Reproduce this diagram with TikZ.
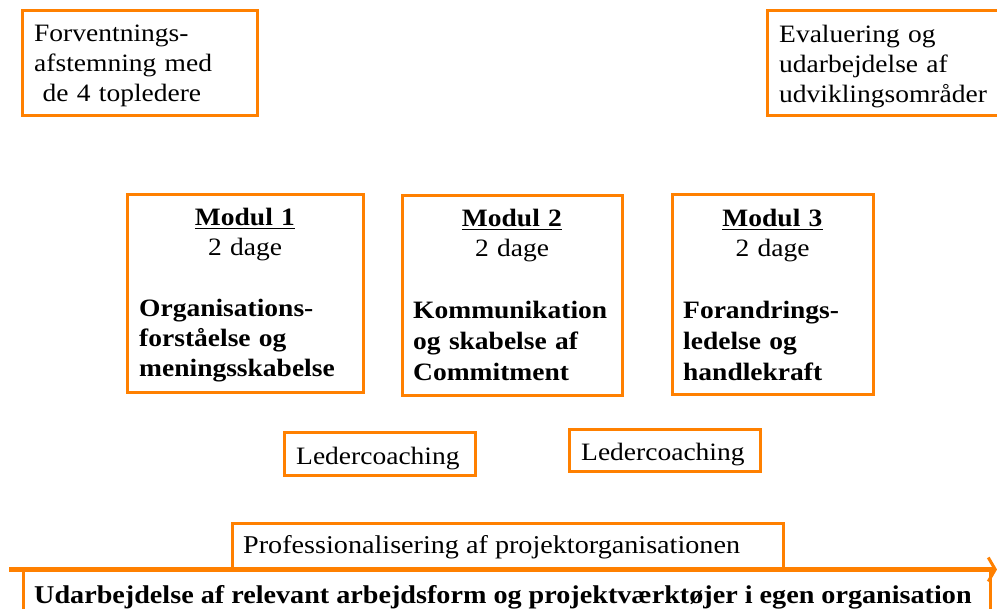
\documentclass[tikz,border=0pt]{standalone}
\usepackage{fontspec}
\setmainfont[FakeStretch=1.1]{Liberation Serif}
\usetikzlibrary{arrows.meta}
\definecolor{boxorange}{RGB}{255,128,0}
\begin{document}
\begin{tikzpicture}[x=1pt,y=-1pt,
  box/.style={draw=boxorange,line width=3pt,inner sep=0pt,outer sep=0pt,anchor=north west},
  txt/.style={inner sep=0pt,anchor=base west,font=\fontsize{25}{30}\selectfont},
  body/.style={txt,text width=#1,align=left},
  head/.style={inner sep=0pt,anchor=base,text width=200pt,align=center,font=\fontsize{25}{30}\selectfont},
  bar/.style={draw=boxorange,line width=5.5pt}
]
\useasboundingbox (0,0) rectangle (997,609);
\clip (0,0) rectangle (997,609);

% top boxes
\node[box,minimum width=235pt,minimum height=105pt] (fv) at (22.5,11) {};
\node[box,minimum width=243pt,minimum height=105pt] (ev) at (767,11) {};
\node[body=220pt] (fvt) at ([xshift=11.5pt,yshift=-31pt]fv.north west)
  {Forventnings-\\afstemning med\\\ de 4 topledere};
\node[body=220pt] (evt) at ([xshift=12pt,yshift=-32pt]ev.north west)
  {Evaluering og\\udarbejdelse af\\udviklingsområder};

% module boxes
\node[box,minimum width=236pt,minimum height=198pt] (m1) at (127,195) {};
\node[box,minimum width=220pt,minimum height=200pt] (m2) at (402,196) {};
\node[box,minimum width=201pt,minimum height=200pt] (m3) at (672,195) {};

\node[head] (m1h) at ([yshift=-31pt]m1.north) {\textbf{\underline{Modul 1}}\\2 dage};
\node[head] (m2h) at ([yshift=-31pt]m2.north) {\textbf{\underline{Modul 2}}\\2 dage};
\node[head] (m3h) at ([yshift=-32pt]m3.north) {\textbf{\underline{Modul 3}}\\2 dage};

\node[body=225pt,font=\fontsize{25}{30}\selectfont\bfseries] (m1b) at ([xshift=12pt,yshift=-122pt]m1.north west)
  {Organisations-\\forståelse og\\meningsskabelse};
\node[body=215pt,font=\fontsize{25}{31}\selectfont\bfseries] (m2b) at ([xshift=11pt,yshift=-123pt]m2.north west)
  {Kommunikation\\og skabelse af\\Commitment};
\node[body=195pt,font=\fontsize{25}{31}\selectfont\bfseries] (m3b) at ([xshift=11pt,yshift=-124pt]m3.north west)
  {Forandrings-\\ledelse og\\handlekraft};

% coaching boxes
\node[box,minimum width=191pt,minimum height=43pt] (lc1) at (284,433) {};
\node[box,minimum width=191pt,minimum height=42pt] (lc2) at (569,430) {};
\node[txt] (lc1t) at ([xshift=12pt,yshift=-32pt]lc1.north west) {Ledercoaching};
\node[txt] (lc2t) at ([xshift=12pt,yshift=-31pt]lc2.north west) {Ledercoaching};

% bottom
\node[box,minimum width=551pt,minimum height=45pt] (pr) at (232,524) {};
\node[txt,font=\fontsize{25.6}{30}\selectfont] (prt) at ([xshift=11pt,yshift=-30pt]pr.north west) {Professionalisering af projektorganisationen};
\node[box,minimum width=967pt,minimum height=80pt] (ub) at (23,569.5) {};
\node[txt,font=\fontsize{25.6}{30}\selectfont\bfseries] (ubt) at ([xshift=11pt,yshift=-34pt]ub.north west)
  {Udarbejdelse af relevant arbejdsform og projektværktøjer i egen organisation};

\coordinate (ls) at (9,569.5);
\coordinate (le) at (997,569.5);
\draw[bar,-{Straight Barb[length=7pt,width=24pt,line width=3pt]}] (ls) -- (le);
\end{tikzpicture}
\end{document}
